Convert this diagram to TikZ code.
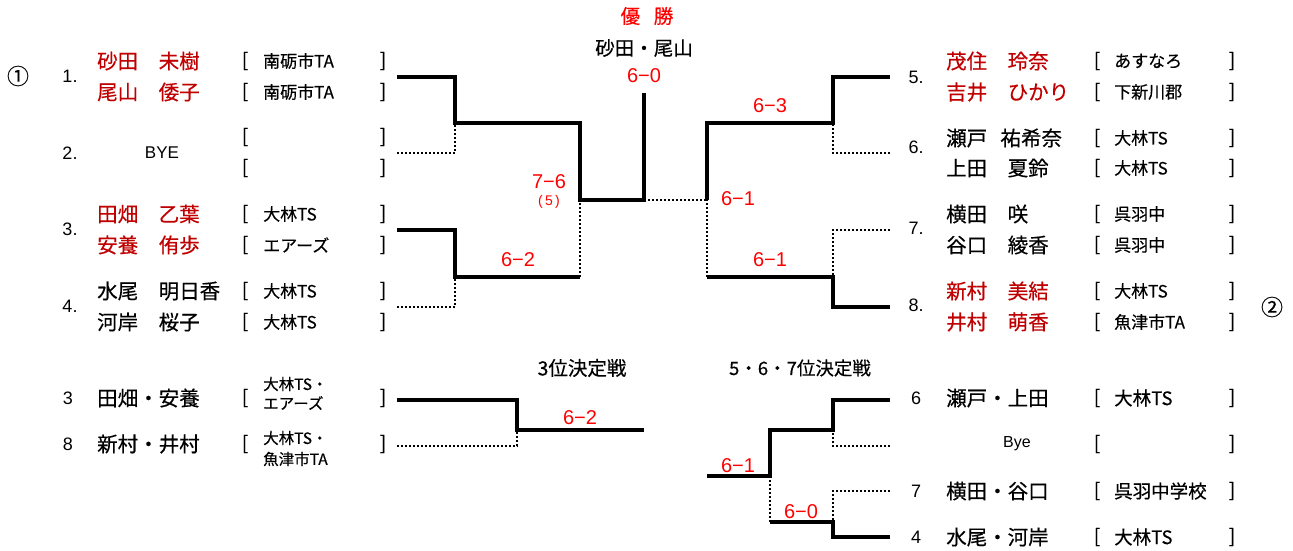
\documentclass[tikz,border=0pt]{standalone}
\usepackage{fontspec}
\setmainfont{Liberation Sans}
\newfontfamily\cjk[FakeBold=0.4]{Noto Sans CJK JP}
\definecolor{namered}{RGB}{192,0,0}
\definecolor{scorered}{RGB}{255,0,0}
\begin{document}
\begin{tikzpicture}[x=1pt,y=-1pt,
  win/.style={line width=3.5pt,line join=miter},
  lose/.style={line width=2pt,dash pattern=on 2pt off 2pt},
  pname/.style={font=\cjk\fontsize{20.5}{20.5}\selectfont,anchor=west,inner sep=0pt},
  rname/.style={pname,text=namered},
  club/.style={font=\cjk\fontsize{17}{17}\selectfont,anchor=west,inner sep=0pt},
  brk/.style={font=\cjk\fontsize{19}{19}\selectfont,inner sep=0pt},
  num/.style={font=\fontsize{18}{18}\selectfont,inner sep=0pt},
  score/.style={font=\fontsize{20}{20}\selectfont,text=scorered,inner sep=0pt},
  title/.style={font=\cjk\fontsize{19.5}{19.5}\selectfont,inner sep=0pt}]
\useasboundingbox (0,0) rectangle (1293,551);

% ---------- header ----------
\node[title,text=scorered] (yusho) at (647,16) {優\hspace{0.7em}勝};
\node[title] (champ) at (644,48) {砂田・尾山};
\node[score] (sc0) at (644,76) {6−0};

% ---------- left side ----------
\node[font=\cjk\fontsize{22}{22}\selectfont,inner sep=0pt] (c1) at (18,76) {①};
\node[num] (k1) at (70,76) {1.};
\node[num] (k2) at (70,153) {2.};
\node[num] (k3) at (70,229) {3.};
\node[num] (k4) at (70,306) {4.};

\node[rname] (n1a) at (97,61) {砂田　未樹};
\node[rname] (n1b) at (97,92) {尾山　倭子};
\node[font=\fontsize{17}{17}\selectfont,inner sep=0pt] (bye1) at (162,153) {BYE};
\node[rname] (n3a) at (97,214) {田畑　乙葉};
\node[rname] (n3b) at (97,245) {安養　侑歩};
\node[pname] (n4a) at (97,291) {水尾　明日香};
\node[pname] (n4b) at (97,322) {河岸　桜子};

\foreach \y/\c [count=\i] in {61/南砺市TA,92/南砺市TA,137/,168/,214/大林TS,245/エアーズ,291/大林TS,322/大林TS}{
  \node[brk] (lbo\i) at (245,\y) {[};
  \node[club] (lcl\i) at (263,\y) {\c};
  \node[brk] (lbc\i) at (383,\y) {]};
}

% ---------- right side ----------
\node[num] (k5) at (916,77) {5.};
\node[num] (k6) at (916,147) {6.};
\node[num] (k7) at (916,228) {7.};
\node[num] (k8) at (916,305) {8.};
\node[font=\cjk\fontsize{22}{22}\selectfont,inner sep=0pt] (c2) at (1272,307) {②};

\node[rname] (n5a) at (946,61) {茂住　玲奈};
\node[rname] (n5b) at (946,92) {吉井　ひかり};
\node[pname] (n6a) at (946,138) {瀬戸\hspace{0.65em}祐希奈};
\node[pname] (n6b) at (946,168) {上田　夏鈴};
\node[pname] (n7a) at (946,214) {横田　咲};
\node[pname] (n7b) at (946,245) {谷口　綾香};
\node[rname] (n8a) at (946,291) {新村　美結};
\node[rname] (n8b) at (946,322) {井村　萌香};

\foreach \y/\c [count=\i] in {61/あすなろ,92/下新川郡,138/大林TS,168/大林TS,214/呉羽中,245/呉羽中,291/大林TS,322/魚津市TA}{
  \node[brk] (rbo\i) at (1097,\y) {[};
  \node[club] (rcl\i) at (1114,\y) {\c};
  \node[brk] (rbc\i) at (1232,\y) {]};
}

% ---------- main bracket coordinates ----------
\coordinate (e1) at (397,77);
\coordinate (e2) at (397,153);
\coordinate (e3) at (397,230);
\coordinate (e4) at (397,307);
\coordinate (q1) at (455,123);
\coordinate (q2) at (455,277);
\coordinate (s1) at (580,200);
\coordinate (f) at (644,200);
\coordinate (ftop) at (644,93);
\coordinate (s2) at (707,200);
\coordinate (e5) at (890,77);
\coordinate (e6) at (890,153);
\coordinate (e7) at (890,230);
\coordinate (e8) at (890,307);
\coordinate (q3) at (833,123);
\coordinate (q4) at (833,277);

\draw[win] (e1) -| (q1) -- (q1 -| s1) |- (f) -- (ftop);
\draw[lose] (e2) -| (q1);
\draw[win] (e3) -| (q2) -- (q2 -| s1);
\draw[lose] (e4) -| (q2);
\draw[lose] (q2 -| s1) -- (s1);
\draw[lose] (f) -- (s2);
\draw[win] (e5) -| (q3) -- (q3 -| s2) -- (s2);
\draw[lose] (e6) -| (q3);
\draw[win] (e8) -| (q4) -- (q4 -| s2);
\draw[lose] (e7) -| (q4);
\draw[lose] (q4 -| s2) -- (s2);

\node[score] (sc76) at (549,182) {7−6};
\node[score,font=\fontsize{14}{14}\selectfont] (tb5) at (549,202) {(\,5\,)};
\node[score] (sc62) at (518,260) {6−2};
\node[score] (sc63) at (770,106) {6−3};
\node[score] (sc61a) at (738,199) {6−1};
\node[score] (sc61b) at (770,260) {6−1};

% ---------- 3rd place ----------
\node[title] (t3) at (582,368) {3位決定戦};
\node[num] (m3) at (68,398) {3};
\node[num] (m8) at (68,444) {8};
\node[pname] (p3) at (97,398) {田畑・安養};
\node[pname] (p8) at (97,444) {新村・井村};
\node[brk] (pb1o) at (245,398) {[};
\node[brk] (pb1c) at (383,398) {]};
\node[brk] (pb2o) at (245,444) {[};
\node[brk] (pb2c) at (383,444) {]};
\node[club,font=\cjk\fontsize{15.5}{15.5}\selectfont] (pc1a) at (263,384) {大林TS・};
\node[club,font=\cjk\fontsize{15.5}{15.5}\selectfont] (pc1b) at (263,403) {エアーズ};
\node[club,font=\cjk\fontsize{15.5}{15.5}\selectfont] (pc2a) at (263,438) {大林TS・};
\node[club,font=\cjk\fontsize{15.5}{15.5}\selectfont] (pc2b) at (263,459) {魚津市TA};

\coordinate (t1) at (397,400);
\coordinate (t2) at (397,446);
\coordinate (tq) at (517,430);
\coordinate (tend) at (644,430);
\draw[win] (t1) -| (tq) -- (tend);
\draw[lose] (t2) -| (tq);
\node[score] (sc62b) at (580,418) {6−2};

% ---------- 5-6-7 place ----------
\node[title,font=\cjk\fontsize{18.5}{18.5}\selectfont] (t5) at (800,368) {5・6・7位決定戦};
\node[num] (w6) at (916,398) {6};
\node[num] (w7) at (916,491) {7};
\node[num] (w4) at (916,537) {4};
\node[pname] (r6) at (946,398) {瀬戸・上田};
\node[font=\fontsize{16}{16}\selectfont,inner sep=0pt] (bye2) at (1017,444) {Bye};
\node[pname] (r7) at (946,491) {横田・谷口};
\node[pname] (r4) at (946,537) {水尾・河岸};
\foreach \y/\c [count=\i] in {398/大林TS,444/,491/呉羽中学校,537/大林TS}{
  \node[brk] (wbo\i) at (1097,\y) {[};
  \node[club,font=\cjk\fontsize{18.5}{18.5}\selectfont] (wcl\i) at (1114,\y) {\c};
  \node[brk] (wbc\i) at (1232,\y) {]};
}

\coordinate (u1) at (890,400);
\coordinate (u2) at (890,446);
\coordinate (u3) at (890,491);
\coordinate (u4) at (890,537);
\coordinate (uq1) at (833,430);
\coordinate (uq2) at (833,522);
\coordinate (us) at (770,476);
\coordinate (uend) at (707,476);
\draw[win] (u1) -| (uq1) -- (uq1 -| us) |- (uend);
\draw[lose] (u2) -| (uq1);
\draw[win] (u4) -| (uq2) -- (uq2 -| us);
\draw[lose] (uq2 -| us) -- (us);
\draw[lose] (u3) -| (uq2);
\node[score] (sc61c) at (738,466) {6−1};
\node[score] (sc60b) at (801,512) {6−0};
\end{tikzpicture}
\end{document}
